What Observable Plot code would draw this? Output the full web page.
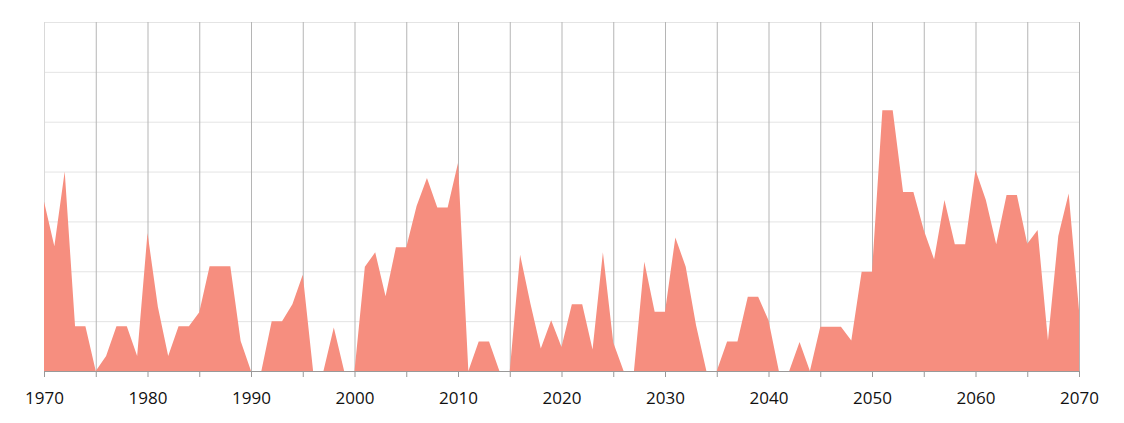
<!DOCTYPE html>
<html>
<head>
<meta charset="utf-8">
<script src="https://cdn.jsdelivr.net/npm/d3@7"></script>
<script src="https://cdn.jsdelivr.net/npm/@observablehq/plot@0.6"></script>
<style>
  html, body { margin: 0; padding: 0; background: #ffffff; }
</style>
</head>
<body>
<div id="chart"></div>
<script>
const years = d3.range(1970, 2071);
const values = [
  34, 25, 40, 9, 9, 0, 3, 9, 9, 3,
  27.7, 12.9, 3, 9, 9, 11.8, 21, 21, 21, 6,
  0, 0, 10, 10, 13.4, 19.3, 0, 0, 8.7, 0,
  0, 20.9, 23.8, 15, 24.8, 24.8, 33.1, 38.7, 32.8, 32.8,
  41.7, 0, 5.9, 5.9, 0, 0, 23.3, 13.5, 4.5, 10.2,
  4.8, 13.4, 13.4, 4.3, 23.8, 5.7, 0, 0, 21.9, 11.9,
  11.9, 26.8, 20.9, 9.2, 0, 0, 5.9, 5.9, 14.9, 14.9,
  10.2, 0, 0, 5.8, 0, 8.9, 8.9, 8.9, 6.1, 19.9,
  19.9, 52.3, 52.3, 35.9, 35.9, 28.3, 22.4, 34.3, 25.4, 25.4,
  40.3, 34.3, 25.4, 35.3, 35.3, 25.5, 28.3, 6.1, 27.1, 35.6,
  12.2
];
const xTicks = d3.range(1970, 2071, 5);
const xLabels = d3.range(1970, 2071, 10);
const yGrid = d3.range(10, 71, 10);

const data = years.map((y, i) => ({year: y, value: values[i]}));

const chart = Plot.plot({
  width: 1124,
  height: 423,
  marginLeft: 44,
  marginRight: 45,
  marginTop: 22,
  marginBottom: 52,
  style: {fontFamily: "'Open Sans', sans-serif", background: "#ffffff", color: "#1a1a1a"},
  x: {domain: [1970, 2070], label: null},
  y: {domain: [0, 70], axis: null},
  marks: [
    Plot.ruleY(yGrid, {stroke: "#e4e4e4", strokeWidth: 1}),
    Plot.ruleX(xTicks.filter(d => d !== 1970), {y1: 0, y2: 70, stroke: "#b5b5b5", strokeWidth: 1}),
    Plot.ruleX([1970], {y1: 0, y2: 70, stroke: "#d9d9d9", strokeWidth: 1}),
    Plot.areaY(data, {x: "year", y: "value", fill: "#f68e7f"}),
    Plot.ruleY([0], {stroke: "#999999", strokeWidth: 1}),
    Plot.axisX({ticks: xTicks, tickSize: 6, stroke: "#999999", tickFormat: () => "", strokeOpacity: 1, label: null}),
    Plot.axisX({ticks: xLabels, tickSize: 0, tickPadding: 20, tickFormat: d => String(d), fontSize: 17, fill: "#111111", label: null})
  ]
});
document.getElementById("chart").appendChild(chart);
</script>
</body>
</html>
